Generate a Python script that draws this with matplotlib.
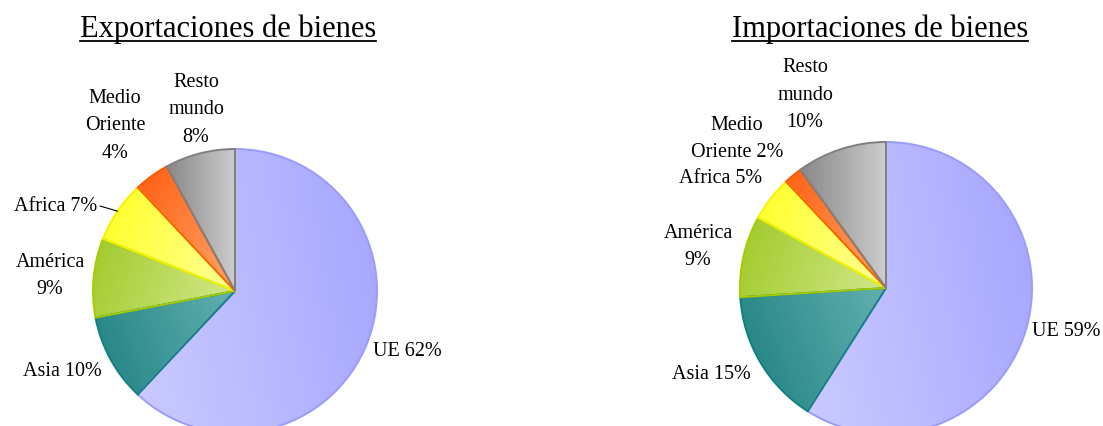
import numpy as np
import matplotlib
matplotlib.use("Agg")
import matplotlib.pyplot as plt
from matplotlib.colors import LinearSegmentedColormap

# Data
regions = ["UE", "Asia", "América", "Africa", "Medio Oriente", "Resto mundo"]
exports = [62, 10, 9, 7, 4, 8]
imports = [59, 15, 9, 5, 2, 10]

export_labels = ["UE 62%", "Asia 10%", "América\n9%", "Africa 7%",
                 "Medio\nOriente\n4%", "Resto\nmundo\n8%"]
import_labels = ["UE 59%", "Asia 15%", "América\n9%", "Africa 5%",
                 "Medio\nOriente 2%", "Resto\nmundo\n10%"]

# Style: (dark, light, edge, gradient direction in degrees)
shades = [
    ("#a8a8ff", "#cacaff", "#9a9aff", 190),
    ("#2a8888", "#62b0b0", "#128080", 20),
    ("#a4cc30", "#d2e88a", "#a6cc00", -20),
    ("#ffff30", "#ffff98", "#f4f400", -20),
    ("#ff6418", "#ffa66a", "#ff5a00", -40),
    ("#888888", "#cccccc", "#808080", 0),
]

W, H = 1103, 427
plt.rcParams["font.family"] = ["Liberation Serif", "DejaVu Serif"]

fig = plt.figure(figsize=(W / 100, H / 100), dpi=100)


def shade_wedge(ax, wedge, dark, light, ang):
    cmap = LinearSegmentedColormap.from_list("g", [dark, light])
    xx, yy = np.meshgrid(np.linspace(-1, 1, 300), np.linspace(-1, 1, 300))
    a = np.deg2rad(ang)
    t = xx * np.cos(a) + yy * np.sin(a)
    v = wedge.get_path().vertices
    p = v[:, 0] * np.cos(a) + v[:, 1] * np.sin(a)
    im = ax.imshow(t, cmap=cmap, vmin=p.min(), vmax=p.max(),
                   extent=(-1, 1, -1, 1), origin="lower", zorder=1,
                   interpolation="bilinear")
    im.set_clip_path(wedge)


def draw_pie(cx, cy, r, values):
    ax = fig.add_axes([(cx - r) / W, (H - cy - r) / H, 2 * r / W, 2 * r / H])
    wedges, _ = ax.pie(values, startangle=90, counterclock=False, radius=1)
    for w, (dark, light, edge, ang) in zip(wedges, shades):
        w.set_facecolor("none")
        w.set_edgecolor(edge)
        w.set_linewidth(1.4)
        w.set_zorder(2)
        shade_wedge(ax, w, dark, light, ang)
    ax.set_xlim(-1, 1)
    ax.set_ylim(-1, 1)
    ax.set_aspect("auto")
    ax.axis("off")
    return ax, wedges


def title(x, y, s):
    t = fig.text(x / W, (H - y) / H, s, ha="center", va="baseline", fontsize=22)
    fig.canvas.draw()
    bb = t.get_window_extent()
    fig.add_artist(plt.Line2D([bb.x0 / W, bb.x1 / W], [(H - y - 5) / H] * 2,
                              color="black", lw=1.3))


def labels(texts, positions):
    for s, (x, y) in zip(texts, positions):
        fig.text(x / W, (H - y) / H, s, ha="center", va="center",
                 multialignment="center", fontsize=14.5, linespacing=1.6)


ax1, w1 = draw_pie(235, 292, 142, exports)
ax2, w2 = draw_pie(886, 289, 146, imports)

title(228, 37, "Exportaciones de bienes")
title(880, 37, "Importaciones de bienes")

labels(export_labels, [(407, 352), (62, 372), (50, 276), (56, 207),
                       (115, 126), (196, 110)])
labels(import_labels, [(1066, 332), (711, 375), (698, 247), (721, 179),
                       (737, 139), (805, 95)])

# leader line for Africa (exports)
w = w1[3]
mid = np.deg2rad((w.theta1 + w.theta2) / 2)
ax1.annotate("", xy=(np.cos(mid), np.sin(mid)), xycoords="data",
             xytext=(100 / W, (H - 207) / H), textcoords="figure fraction",
             arrowprops=dict(arrowstyle="-", color="black", lw=0.8,
                             shrinkA=0, shrinkB=0))

fig.savefig("out.png", dpi=100)
